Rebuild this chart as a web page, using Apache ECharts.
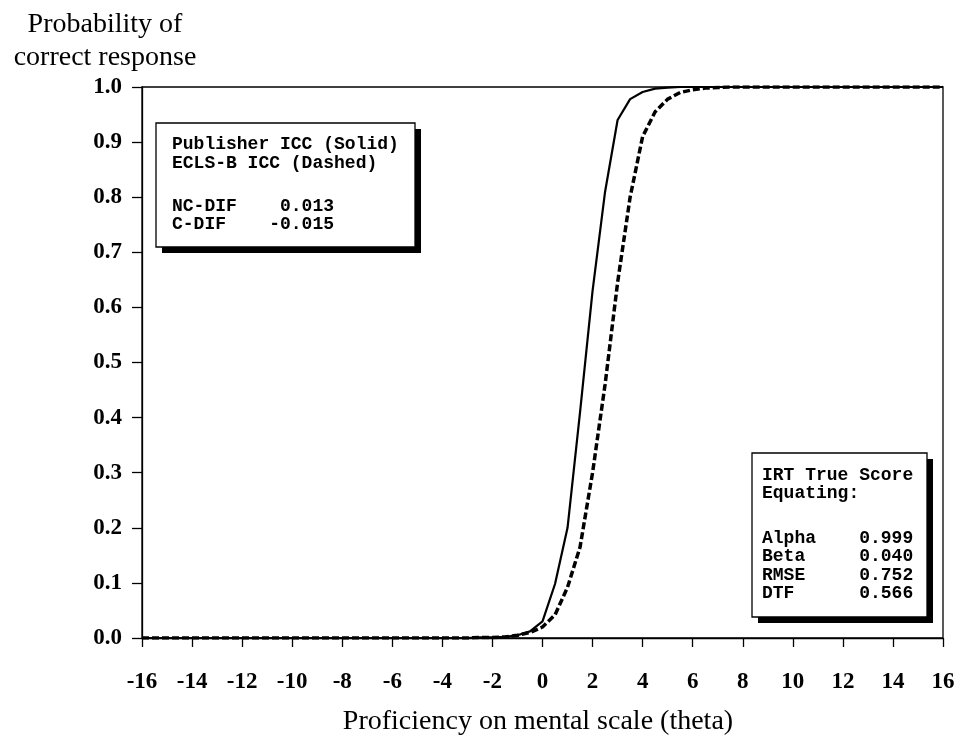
<!DOCTYPE html>
<html>
<head>
<meta charset="utf-8">
<script src="https://cdn.jsdelivr.net/npm/echarts@6/dist/echarts.min.js"></script>
<style>
  html, body { margin: 0; padding: 0; background: #fff; }
  #chart { width: 961px; height: 744px; }
</style>
</head>
<body>
<div id="chart"></div>
<script>
// Ability scale (theta) sample points
var theta = [
  -16, -15.5, -15, -14.5, -14, -13.5, -13, -12.5, -12, -11.5, -11, -10.5, -10,
  -9.5, -9, -8.5, -8, -7.5, -7, -6.5, -6, -5.5, -5, -4.5, -4, -3.5, -3,
  -2.5, -2, -1.5, -1, -0.5, 0, 0.5, 1, 1.5, 2, 2.5, 3, 3.5, 4, 4.5, 5,
  5.5, 6, 6.5, 7, 7.5, 8, 8.5, 9, 9.5, 10, 10.5, 11, 11.5, 12, 12.5, 13,
  13.5, 14, 14.5, 15, 15.5, 16
];

// Publisher item characteristic curve (solid)
var publisherICC = [
  0, 0, 0, 0, 0, 0, 0, 0, 0, 0, 0, 0, 0,
  0, 0, 0, 0, 0, 0, 0, 0, 0, 0, 0, 0, 0, 0,
  0.001, 0.001, 0.002, 0.005, 0.012, 0.030, 0.098, 0.200, 0.410, 0.630, 0.810, 0.940, 0.978, 0.991, 0.997, 0.999,
  1, 1, 1, 1, 1, 1, 1, 1, 1, 1, 1, 1, 1, 1, 1, 1,
  1, 1, 1, 1, 1, 1
];

// ECLS-B item characteristic curve (dashed)
var eclsbICC = [
  0, 0, 0, 0, 0, 0, 0, 0, 0, 0, 0, 0, 0,
  0, 0, 0, 0, 0, 0, 0, 0, 0, 0, 0, 0, 0, 0,
  0.001, 0.001, 0.002, 0.005, 0.010, 0.020, 0.042, 0.092, 0.165, 0.300, 0.460, 0.645, 0.800, 0.910, 0.955, 0.978,
  0.990, 0.995, 0.998, 0.999, 1, 1, 1, 1, 1, 1, 1, 1, 1, 1, 1, 1,
  1, 1, 1, 1, 1, 1
];

var yTitleLines = ['Probability of', 'correct response'];
var xTitle = 'Proficiency on mental scale (theta)';

var legendHead = ['Publisher ICC (Solid)', 'ECLS-B ICC (Dashed)'];
var difLines = ['NC-DIF    0.013', 'C-DIF    -0.015'];
var equatingHead = ['IRT True Score', 'Equating:'];
var equatingLines = ['Alpha    0.999', 'Beta     0.040', 'RMSE     0.752', 'DTF      0.566'];

function zip(xs, ys) {
  return xs.map(function (x, i) { return [x, ys[i]]; });
}

var serif = '"Liberation Serif", "Times New Roman", serif';
var mono = 'bold 18px "Liberation Mono", "Courier New", monospace';

function shadowBox(x, y, w, h, off) {
  return [
    { type: 'rect', z: 100, shape: { x: x + off, y: y + off, width: w, height: h },
      style: { fill: '#000', stroke: null } },
    { type: 'rect', z: 101, shape: { x: x, y: y, width: w, height: h },
      style: { fill: '#fff', stroke: '#000', lineWidth: 1.3 } }
  ];
}

function textBlock(x, y, lines, lh) {
  return { type: 'text', z: 102, x: x, y: y,
    style: { text: lines.join('\n'), font: mono, fill: '#000', lineHeight: lh,
             textAlign: 'left', textVerticalAlign: 'top' } };
}

var chart = echarts.init(document.getElementById('chart'), null, { renderer: 'canvas' });

var graphics = []
  .concat(shadowBox(156, 123, 259, 124, 6))
  .concat([textBlock(172, 135, legendHead, 19), textBlock(172, 197, difLines, 18.5)])
  .concat(shadowBox(752, 453, 175, 164, 6))
  .concat([textBlock(762, 467, equatingHead, 17.5), textBlock(762, 529, equatingLines, 18.4)])
  .concat([
    { type: 'text', z: 102, x: 105, y: 8,
      style: { text: yTitleLines.join('\n'), font: '28px ' + serif, fill: '#000',
               lineHeight: 33, textAlign: 'center', textVerticalAlign: 'top' } },
    { type: 'text', z: 102, x: 538, y: 722,
      style: { text: xTitle, font: '28px ' + serif, fill: '#000',
               textAlign: 'center', textVerticalAlign: 'middle' } }
  ]);

chart.setOption({
  animation: false,
  backgroundColor: '#fff',
  grid: { left: 142, right: 18, top: 87, bottom: 106, show: true,
          borderColor: '#000', borderWidth: 1.3, backgroundColor: 'transparent' },
  xAxis: {
    type: 'value', min: -16, max: 16, interval: 2,
    axisLine: { show: true, onZero: false, lineStyle: { color: '#000', width: 1.3 } },
    axisTick: { show: true, inside: false, length: 9, lineStyle: { color: '#000', width: 1.3 } },
    axisLabel: { margin: 33, color: '#000', fontFamily: serif, fontWeight: 'bold', fontSize: 23 },
    splitLine: { show: false }
  },
  yAxis: {
    type: 'value', min: 0, max: 1, interval: 0.1,
    axisLine: { show: true, onZero: false, lineStyle: { color: '#000', width: 1.3 } },
    axisTick: { show: true, inside: false, length: 10, lineStyle: { color: '#000', width: 1.3 } },
    axisLabel: { margin: 20, color: '#000', fontFamily: serif, fontWeight: 'bold', fontSize: 23,
                 formatter: function (v) { return v.toFixed(1); } },
    splitLine: { show: false }
  },
  series: [
    { type: 'line', name: 'Publisher ICC', data: zip(theta, publisherICC), showSymbol: false,
      lineStyle: { color: '#000', width: 2.2, type: 'solid' }, z: 3 },
    { type: 'line', name: 'ECLS-B ICC', data: zip(theta, eclsbICC), showSymbol: false,
      lineStyle: { color: '#000', width: 3.5, type: [7, 3] }, z: 4 }
  ],
  graphic: graphics
});
</script>
</body>
</html>
